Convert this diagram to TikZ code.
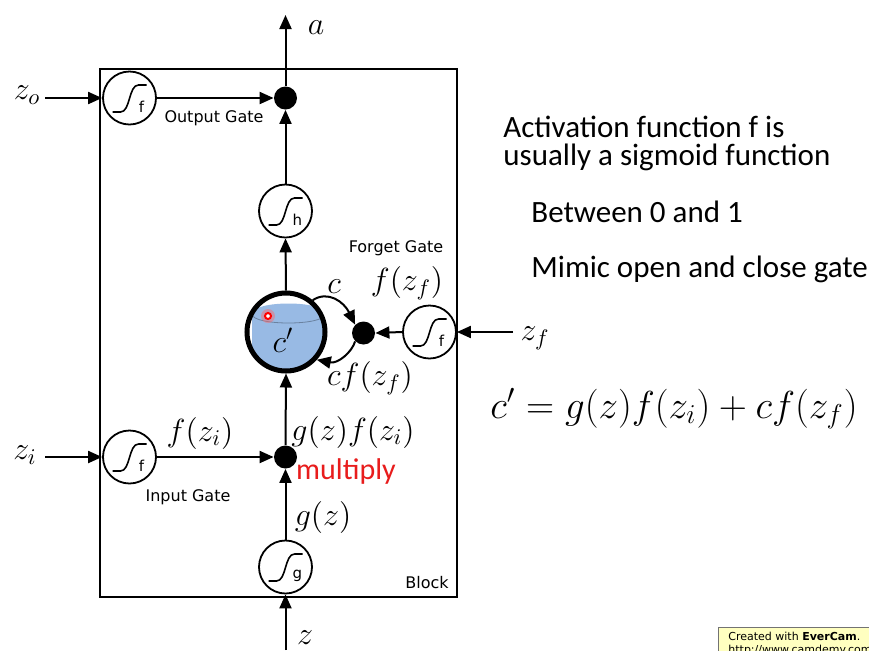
\RequirePackage{fix-cm}
\documentclass[tikz,border=0pt]{standalone}
\usepackage{fontspec}
\newfontfamily\carl{Carlito}
\newfontfamily\dvs{DejaVu Sans}
\usetikzlibrary{arrows.meta,calc}
\definecolor{cylblue}{RGB}{152,186,228}
\definecolor{noteyellow}{RGB}{255,255,192}
\definecolor{multred}{RGB}{232,28,28}
\tikzset{
 arr/.style={line width=1pt,-{Triangle[length=7pt,width=6pt]}},
 gate/.style={circle,draw,line width=0.9pt,fill=white,minimum size=26.5pt,inner sep=0pt},
 mdot/.style={circle,fill=black,minimum size=11.5pt,inner sep=0pt},
 mlab/.style={font=\fontsize{16}{19}\selectfont,inner sep=0pt},
 glab/.style={font=\dvs\fontsize{8}{10}\selectfont,inner sep=0pt},
 sublet/.style={font=\dvs\fontsize{7.5}{9}\selectfont,inner sep=0pt},
 sig/.pic={\draw[line width=0.8pt] (-17,14) -- (-9,14) .. controls (1,14) and (-1,-13) .. (9,-13) -- (17,-13);},
 rtext/.style={font=\carl\fontsize{15.5}{18}\selectfont,anchor=base west,inner sep=0pt},
}
\begin{document}
\begin{tikzpicture}[x=0.5pt,y=-0.5pt]
\useasboundingbox (0,0) rectangle (869,650);
\fill[white] (0,0) rectangle (869,650);
% block
\draw[line width=1.2pt] (100,69) rectangle (457,597);
\node[glab] (blk) at (427,583) {Block};
% memory cell c'
\begin{scope}
\clip (286,332) circle[radius=39];
\fill[cylblue] (252,385) -- (252,314) .. controls (252,300) and (325,300) .. (325,314) -- (325,385) -- cycle;
\draw[cylblue!70!black, line width=0.4pt] (252,314) .. controls (252,326) and (325,326) .. (325,314);
\end{scope}
\node[circle,draw,line width=2.5pt,minimum size=39pt,inner sep=0pt] (cp) at (286,332) {};
\fill[red!60,opacity=0.45] (268,316) circle[radius=7];
\draw[red,line width=1pt,fill=white] (268,316) circle[radius=3];
\node[mlab] (cpl) at (283,340) {$c'$};
% gates
\node[gate] (og) at (129.5,98) {};
\pic at (og) {sig};
\node[sublet] at ($(og)+(12,9)$) {f};
\node[gate] (hg) at (285.5,211) {};
\pic at (hg) {sig};
\node[sublet] at ($(hg)+(12,9)$) {h};
\node[gate] (fg) at (429.5,332) {};
\pic at (fg) {sig};
\node[sublet] at ($(fg)+(12,9)$) {f};
\node[gate] (ig) at (129.5,457) {};
\pic at (ig) {sig};
\node[sublet] at ($(ig)+(12,9)$) {f};
\node[gate] (gg) at (285.5,567) {};
\pic at (gg) {sig};
\node[sublet] at ($(gg)+(12,9)$) {g};
% multiply dots
\node[mdot] (od) at (285.5,98) {};
\node[mdot] (fd) at (363.5,333) {};
\node[mdot] (id) at (285.5,457) {};
% free ends
\coordinate (zo) at (45,98);
\coordinate (zi) at (45,457);
\coordinate (zf) at (513,332);
\coordinate (zb) at (285.5,650);
\coordinate (at) at (285.5,15);
% connectors
\draw[arr] (zo) -- (og.west);
\draw[arr] (og.east) -- (od.west);
\draw[arr] (od.north) -- (at);
\draw[arr] (hg.north) -- (od.south);
\draw[arr] (cp.north) -- (hg.south);
\draw[arr] (id.north) -- (cp.south);
\draw[arr] (gg.north) -- (id.south);
\draw[arr] (zb) -- (gg.south);
\draw[arr] (zi) -- (ig.west);
\draw[arr] (ig.east) -- (id.west);
\draw[arr] (zf) -- (fg.east);
\draw[arr] (fg.west) -- (fd.east);
\draw[arr] (cp.50) .. controls (328,290) and (344,302) .. (fd.135);
\draw[arr] (fd.225) .. controls (352,352) and (338,364) .. (cp.-42);
% labels
\node[mlab] at (27,95) {$z_o$};
\node[mlab] at (316,28) {$a$};
\node[glab] at (214,118) {Output Gate};
\node[glab] at (396,248) {Forget Gate};
\node[mlab] at (334,287) {$c$};
\node[mlab] at (407,283) {$f\bigl(z_f\bigr)$};
\node[mlab] at (370,378) {$cf\bigl(z_f\bigr)$};
\node[mlab] at (200,433) {$f(z_i)$};
\node[mlab] at (353,432) {$g(z)f(z_i)$};
\node[font=\carl\fontsize{15}{18}\selectfont,text=multred,inner sep=0pt] at (346,471) {multiply};
\node[glab] at (188,497) {Input Gate};
\node[mlab] at (323,517) {$g(z)$};
\node[mlab] at (305,638) {$z$};
\node[mlab] at (25,455) {$z_i$};
\node[mlab] at (535,338) {$z_f$};
% right text
\node[rtext] at (503,137) {Activation function f is};
\node[rtext] at (503,165) {usually a sigmoid function};
\node[rtext] at (531,222) {Between 0 and 1};
\node[rtext] at (531,277) {Mimic open and close gate};
\node[font=\fontsize{19.5}{23}\selectfont,anchor=base west,inner sep=0pt] (eq) at (490,418) {$c' = g(z)f(z_i) + cf\bigl(z_f\bigr)$};
% EverCam note
\begin{scope}
\clip (0,0) rectangle (869,650);
\filldraw[fill=noteyellow,draw=black!55,line width=0.4pt] (718,627) rectangle (880,670);
\node[font=\dvs\fontsize{5.5}{6}\selectfont,anchor=base west,inner sep=0pt] at (728,640) {Created with \textbf{EverCam}.};
\node[font=\dvs\fontsize{5.5}{6}\selectfont,anchor=base west,inner sep=0pt] at (728,653) {http://www.camdemy.com};
\end{scope}
\end{tikzpicture}
\end{document}
